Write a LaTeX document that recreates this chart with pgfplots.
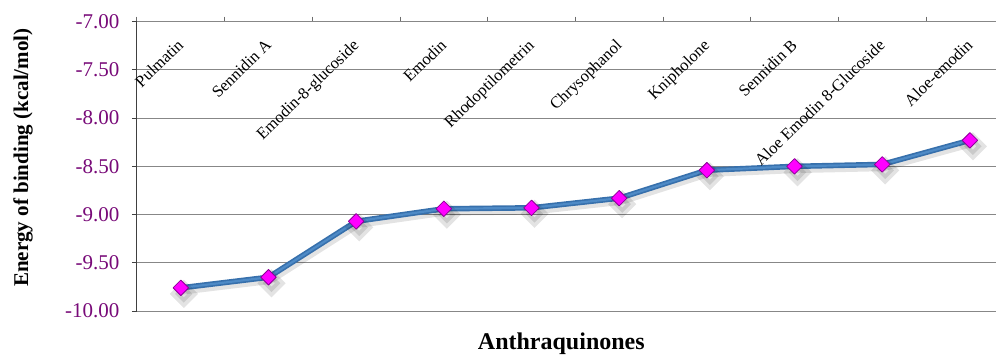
\documentclass[border=0pt]{standalone}
\usepackage{pgfplots}
\pgfplotsset{compat=1.18}
\usepackage{fontspec}
\setmainfont{Liberation Serif}
\definecolor{tickpurple}{RGB}{120,10,120}
\definecolor{gridgray}{RGB}{135,135,135}
\definecolor{lineblue}{RGB}{55,112,172}
\definecolor{lineblueL}{RGB}{78,138,198}
\definecolor{markmag}{RGB}{255,0,255}
\definecolor{markedge}{RGB}{140,0,150}
\begin{document}
\begin{tikzpicture}
\begin{axis}[
  scale only axis,
  width=859.2pt, height=289.3pt,
  xmin=-0.5, xmax=9.3,
  ymin=-10, ymax=-7,
  clip=false,
  axis x line*=top,
  axis y line*=left,
  x axis line style={draw=gridgray, line width=1pt},
  y axis line style={draw=black!75, line width=1pt},
  xtick={-0.5,0.5,1.5,2.5,3.5,4.5,5.5,6.5,7.5,8.5},
  xticklabels={},
  ytick={-10,-9.5,-9,-8.5,-8,-7.5,-7},
  tick align=outside,
  major tick length=5pt,
  x tick style={draw=gridgray!80!black, line width=1pt},
  y tick style={draw=black!75, line width=1pt},
  ymajorgrids,
  grid style={draw=gridgray, line width=1pt},
  yticklabel style={font=\fontsize{21}{21}\selectfont, text=tickpurple, xshift=-9pt},
  /pgf/number format/assume math mode=true,
  yticklabel={\pgfmathprintnumber[fixed,fixed zerofill,precision=2]{\tick}},
]
% shadow
\addplot[black, opacity=0.11, line width=7.5pt, mark=square*, mark size=6.2pt, mark options={rotate=45, draw=none, fill=black}, transform canvas={xshift=1.5pt, yshift=-3pt}] coordinates {
(0,-9.76) (1,-9.65) (2,-9.07) (3,-8.94) (4,-8.93) (5,-8.83) (6,-8.54) (7,-8.50) (8,-8.48) (9,-8.23)};
\addplot[lineblue, line width=5.5pt, line join=round] coordinates {
(0,-9.76) (1,-9.65) (2,-9.07) (3,-8.94) (4,-8.93) (5,-8.83) (6,-8.54) (7,-8.50) (8,-8.48) (9,-8.23)};
\addplot[lineblueL, line width=2.2pt, line join=round, mark=square*, mark size=5.5pt, mark options={rotate=45, draw=markedge, fill=markmag, line width=0.8pt}] coordinates {
(0,-9.76) (1,-9.65) (2,-9.07) (3,-8.94) (4,-8.93) (5,-8.83) (6,-8.54) (7,-8.50) (8,-8.48) (9,-8.23)};
% category labels
\begin{scope}[every node/.style={rotate=44, anchor=north east, inner sep=0pt, font=\fontsize{16.5}{16.5}\selectfont}]
\node at (axis cs:-0.05,-7.17) {Pulmatin};
\node at (axis cs:0.95,-7.17) {Sennidin A};
\node at (axis cs:1.95,-7.17) {Emodin-8-glucoside};
\node at (axis cs:2.95,-7.17) {Emodin};
\node at (axis cs:3.95,-7.17) {Rhodoptilometrin};
\node at (axis cs:4.95,-7.17) {Chrysophanol};
\node at (axis cs:5.95,-7.17) {Knipholone};
\node at (axis cs:6.95,-7.17) {Sennidin B};
\node at (axis cs:7.95,-7.17) {Aloe Emodin 8-Glucoside};
\node at (axis cs:8.95,-7.17) {Aloe-emodin};
\end{scope}
\node[anchor=base, font=\fontsize{24}{24}\selectfont\bfseries] at (axis cs:4.34,-10.40) {Anthraquinones};
\node[rotate=90, anchor=center, font=\fontsize{21}{21}\selectfont\bfseries] at (rel axis cs:-0.1327,0.53) {Energy of binding (kcal/mol)};
\end{axis}
\pgfresetboundingbox
\path[use as bounding box] (current axis.south west) ++(-137pt,-43pt) rectangle ++(998pt,354pt);
\end{tikzpicture}
\end{document}
